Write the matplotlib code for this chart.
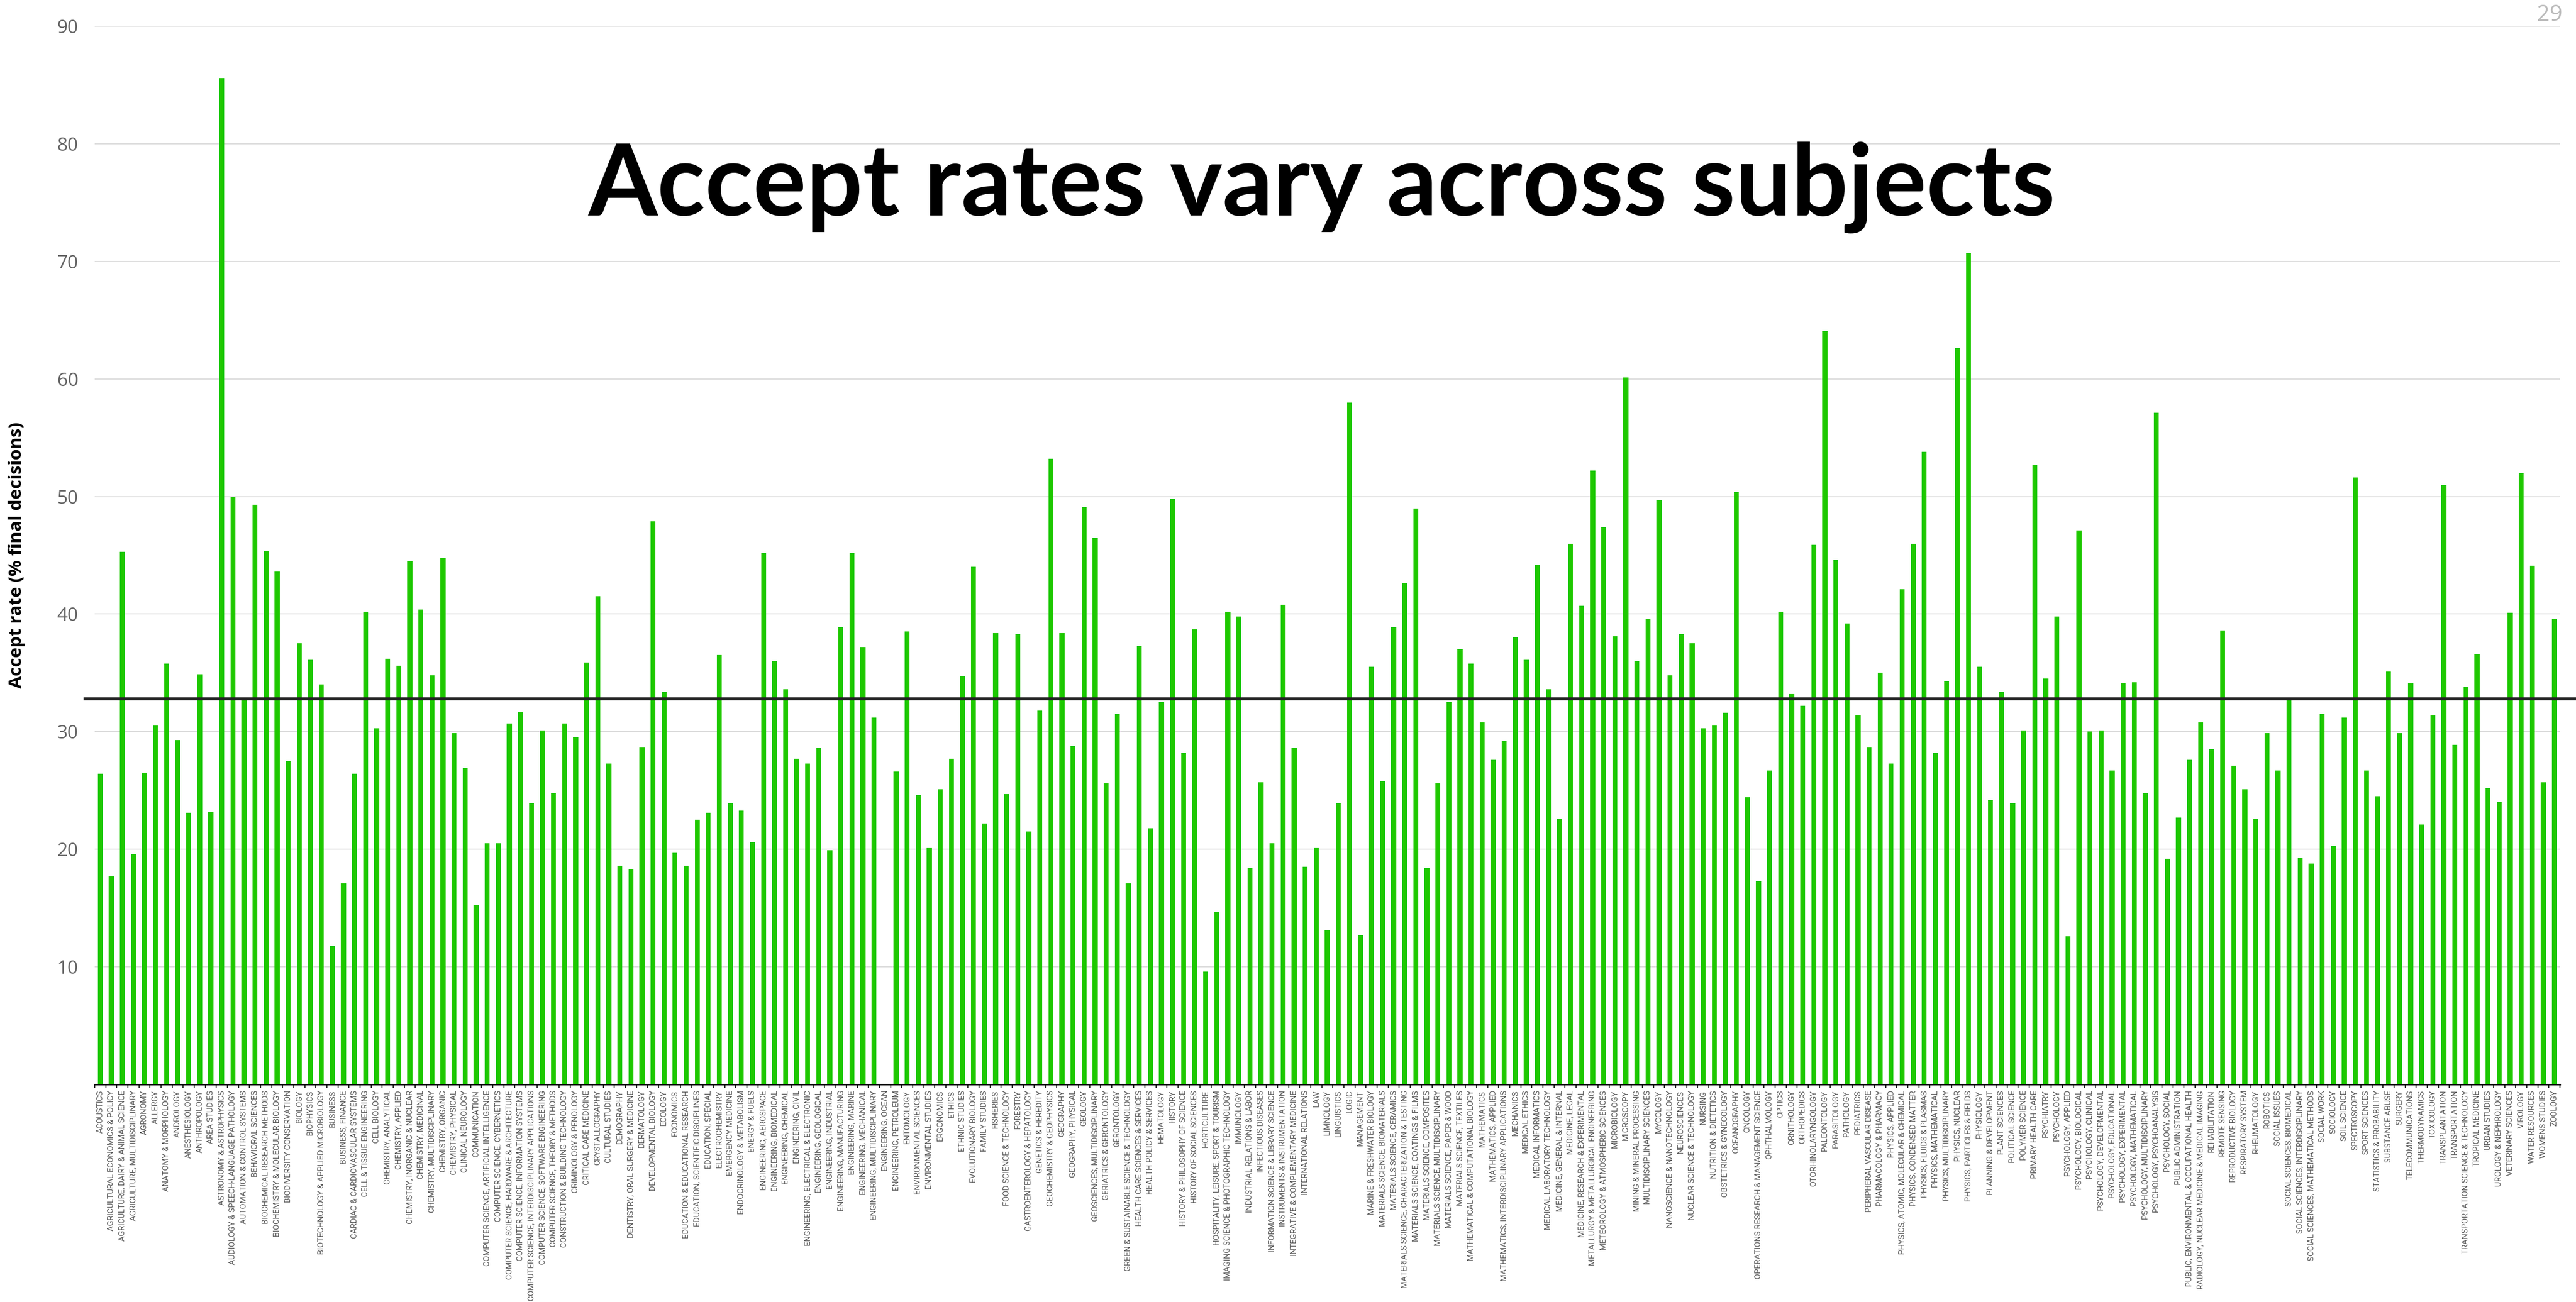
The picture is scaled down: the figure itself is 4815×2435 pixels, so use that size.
import matplotlib
matplotlib.use("Agg")
import matplotlib.pyplot as plt
import numpy as np

subjects = [
    "ACOUSTICS", "AGRICULTURAL ECONOMICS & POLICY", "AGRICULTURE, DAIRY & ANIMAL SCIENCE",
    "AGRICULTURE, MULTIDISCIPLINARY", "AGRONOMY", "ALLERGY", "ANATOMY & MORPHOLOGY", "ANDROLOGY",
    "ANESTHESIOLOGY", "ANTHROPOLOGY", "AREA STUDIES", "ASTRONOMY & ASTROPHYSICS",
    "AUDIOLOGY & SPEECH-LANGUAGE PATHOLOGY", "AUTOMATION & CONTROL SYSTEMS", "BEHAVIORAL SCIENCES",
    "BIOCHEMICAL RESEARCH METHODS", "BIOCHEMISTRY & MOLECULAR BIOLOGY", "BIODIVERSITY CONSERVATION",
    "BIOLOGY", "BIOPHYSICS", "BIOTECHNOLOGY & APPLIED MICROBIOLOGY", "BUSINESS", "BUSINESS, FINANCE",
    "CARDIAC & CARDIOVASCULAR SYSTEMS", "CELL & TISSUE ENGINEERING", "CELL BIOLOGY",
    "CHEMISTRY, ANALYTICAL", "CHEMISTRY, APPLIED", "CHEMISTRY, INORGANIC & NUCLEAR",
    "CHEMISTRY, MEDICINAL", "CHEMISTRY, MULTIDISCIPLINARY", "CHEMISTRY, ORGANIC", "CHEMISTRY, PHYSICAL",
    "CLINICAL NEUROLOGY", "COMMUNICATION", "COMPUTER SCIENCE, ARTIFICIAL INTELLIGENCE",
    "COMPUTER SCIENCE, CYBERNETICS", "COMPUTER SCIENCE, HARDWARE & ARCHITECTURE",
    "COMPUTER SCIENCE, INFORMATION SYSTEMS", "COMPUTER SCIENCE, INTERDISCIPLINARY APPLICATIONS",
    "COMPUTER SCIENCE, SOFTWARE ENGINEERING", "COMPUTER SCIENCE, THEORY & METHODS",
    "CONSTRUCTION & BUILDING TECHNOLOGY", "CRIMINOLOGY & PENOLOGY", "CRITICAL CARE MEDICINE",
    "CRYSTALLOGRAPHY", "CULTURAL STUDIES", "DEMOGRAPHY", "DENTISTRY, ORAL SURGERY & MEDICINE",
    "DERMATOLOGY", "DEVELOPMENTAL BIOLOGY", "ECOLOGY", "ECONOMICS", "EDUCATION & EDUCATIONAL RESEARCH",
    "EDUCATION, SCIENTIFIC DISCIPLINES", "EDUCATION, SPECIAL", "ELECTROCHEMISTRY", "EMERGENCY MEDICINE",
    "ENDOCRINOLOGY & METABOLISM", "ENERGY & FUELS", "ENGINEERING, AEROSPACE", "ENGINEERING, BIOMEDICAL",
    "ENGINEERING, CHEMICAL", "ENGINEERING, CIVIL", "ENGINEERING, ELECTRICAL & ELECTRONIC",
    "ENGINEERING, GEOLOGICAL", "ENGINEERING, INDUSTRIAL", "ENGINEERING, MANUFACTURING",
    "ENGINEERING, MARINE", "ENGINEERING, MECHANICAL", "ENGINEERING, MULTIDISCIPLINARY",
    "ENGINEERING, OCEAN", "ENGINEERING, PETROLEUM", "ENTOMOLOGY", "ENVIRONMENTAL SCIENCES",
    "ENVIRONMENTAL STUDIES", "ERGONOMICS", "ETHICS", "ETHNIC STUDIES", "EVOLUTIONARY BIOLOGY",
    "FAMILY STUDIES", "FISHERIES", "FOOD SCIENCE & TECHNOLOGY", "FORESTRY",
    "GASTROENTEROLOGY & HEPATOLOGY", "GENETICS & HEREDITY", "GEOCHEMISTRY & GEOPHYSICS", "GEOGRAPHY",
    "GEOGRAPHY, PHYSICAL", "GEOLOGY", "GEOSCIENCES, MULTIDISCIPLINARY", "GERIATRICS & GERONTOLOGY",
    "GERONTOLOGY", "GREEN & SUSTAINABLE SCIENCE & TECHNOLOGY", "HEALTH CARE SCIENCES & SERVICES",
    "HEALTH POLICY & SERVICES", "HEMATOLOGY", "HISTORY", "HISTORY & PHILOSOPHY OF SCIENCE",
    "HISTORY OF SOCIAL SCIENCES", "HORTICULTURE", "HOSPITALITY, LEISURE, SPORT & TOURISM",
    "IMAGING SCIENCE & PHOTOGRAPHIC TECHNOLOGY", "IMMUNOLOGY", "INDUSTRIAL RELATIONS & LABOR",
    "INFECTIOUS DISEASES", "INFORMATION SCIENCE & LIBRARY SCIENCE", "INSTRUMENTS & INSTRUMENTATION",
    "INTEGRATIVE & COMPLEMENTARY MEDICINE", "INTERNATIONAL RELATIONS", "LAW", "LIMNOLOGY",
    "LINGUISTICS", "LOGIC", "MANAGEMENT", "MARINE & FRESHWATER BIOLOGY",
    "MATERIALS SCIENCE, BIOMATERIALS", "MATERIALS SCIENCE, CERAMICS",
    "MATERIALS SCIENCE, CHARACTERIZATION & TESTING", "MATERIALS SCIENCE, COATINGS & FILMS",
    "MATERIALS SCIENCE, COMPOSITES", "MATERIALS SCIENCE, MULTIDISCIPLINARY",
    "MATERIALS SCIENCE, PAPER & WOOD", "MATERIALS SCIENCE, TEXTILES",
    "MATHEMATICAL & COMPUTATIONAL BIOLOGY", "MATHEMATICS", "MATHEMATICS, APPLIED",
    "MATHEMATICS, INTERDISCIPLINARY APPLICATIONS", "MECHANICS", "MEDICAL ETHICS",
    "MEDICAL INFORMATICS", "MEDICAL LABORATORY TECHNOLOGY", "MEDICINE, GENERAL & INTERNAL",
    "MEDICINE, LEGAL", "MEDICINE, RESEARCH & EXPERIMENTAL", "METALLURGY & METALLURGICAL ENGINEERING",
    "METEOROLOGY & ATMOSPHERIC SCIENCES", "MICROBIOLOGY", "MICROSCOPY", "MINING & MINERAL PROCESSING",
    "MULTIDISCIPLINARY SCIENCES", "MYCOLOGY", "NANOSCIENCE & NANOTECHNOLOGY", "NEUROSCIENCES",
    "NUCLEAR SCIENCE & TECHNOLOGY", "NURSING", "NUTRITION & DIETETICS", "OBSTETRICS & GYNECOLOGY",
    "OCEANOGRAPHY", "ONCOLOGY", "OPERATIONS RESEARCH & MANAGEMENT SCIENCE", "OPHTHALMOLOGY", "OPTICS",
    "ORNITHOLOGY", "ORTHOPEDICS", "OTORHINOLARYNGOLOGY", "PALEONTOLOGY", "PARASITOLOGY", "PATHOLOGY",
    "PEDIATRICS", "PERIPHERAL VASCULAR DISEASE", "PHARMACOLOGY & PHARMACY", "PHYSICS, APPLIED",
    "PHYSICS, ATOMIC, MOLECULAR & CHEMICAL", "PHYSICS, CONDENSED MATTER", "PHYSICS, FLUIDS & PLASMAS",
    "PHYSICS, MATHEMATICAL", "PHYSICS, MULTIDISCIPLINARY", "PHYSICS, NUCLEAR",
    "PHYSICS, PARTICLES & FIELDS", "PHYSIOLOGY", "PLANNING & DEVELOPMENT", "PLANT SCIENCES",
    "POLITICAL SCIENCE", "POLYMER SCIENCE", "PRIMARY HEALTH CARE", "PSYCHIATRY", "PSYCHOLOGY",
    "PSYCHOLOGY, APPLIED", "PSYCHOLOGY, BIOLOGICAL", "PSYCHOLOGY, CLINICAL",
    "PSYCHOLOGY, DEVELOPMENTAL", "PSYCHOLOGY, EDUCATIONAL", "PSYCHOLOGY, EXPERIMENTAL",
    "PSYCHOLOGY, MATHEMATICAL", "PSYCHOLOGY, MULTIDISCIPLINARY", "PSYCHOLOGY, PSYCHOANALYSIS",
    "PSYCHOLOGY, SOCIAL", "PUBLIC ADMINISTRATION", "PUBLIC, ENVIRONMENTAL & OCCUPATIONAL HEALTH",
    "RADIOLOGY, NUCLEAR MEDICINE & MEDICAL IMAGING", "REHABILITATION", "REMOTE SENSING",
    "REPRODUCTIVE BIOLOGY", "RESPIRATORY SYSTEM", "RHEUMATOLOGY", "ROBOTICS", "SOCIAL ISSUES",
    "SOCIAL SCIENCES, BIOMEDICAL", "SOCIAL SCIENCES, INTERDISCIPLINARY",
    "SOCIAL SCIENCES, MATHEMATICAL METHODS", "SOCIAL WORK", "SOCIOLOGY", "SOIL SCIENCE",
    "SPECTROSCOPY", "SPORT SCIENCES", "STATISTICS & PROBABILITY", "SUBSTANCE ABUSE", "SURGERY",
    "TELECOMMUNICATIONS", "THERMODYNAMICS", "TOXICOLOGY", "TRANSPLANTATION", "TRANSPORTATION",
    "TRANSPORTATION SCIENCE & TECHNOLOGY", "TROPICAL MEDICINE", "URBAN STUDIES",
    "UROLOGY & NEPHROLOGY", "VETERINARY SCIENCES", "VIROLOGY", "WATER RESOURCES", "WOMENS STUDIES",
    "ZOOLOGY",
]

# accept rate, % of final decisions
accept_rate = [
    26.4, 17.7, 45.3, 19.6, 26.5, 30.5, 35.8, 29.3, 23.1, 34.9,
    23.2, 85.6, 50.0, 32.8, 49.3, 45.4, 43.6, 27.5, 37.5, 36.1,
    34.0, 11.8, 17.1, 26.4, 40.2, 30.3, 36.2, 35.6, 44.5, 40.4,
    34.8, 44.8, 29.9, 26.9, 15.3, 20.5, 20.5, 30.7, 31.7, 23.9,
    30.1, 24.8, 30.7, 29.5, 35.9, 41.5, 27.3, 18.6, 18.3, 28.7,
    47.9, 33.4, 19.7, 18.6, 22.5, 23.1, 36.5, 23.9, 23.3, 20.6,
    45.2, 36.0, 33.6, 27.7, 27.3, 28.6, 19.9, 38.9, 45.2, 37.2,
    31.2, 0.0, 26.6, 38.5, 24.6, 20.1, 25.1, 27.7, 34.7, 44.0,
    22.2, 38.4, 24.7, 38.3, 21.5, 31.8, 53.2, 38.4, 28.8, 49.1,
    46.5, 25.6, 31.5, 17.1, 37.3, 21.8, 32.5, 49.8, 28.2, 38.7,
    9.6, 14.7, 40.2, 39.8, 18.4, 25.7, 20.5, 40.8, 28.6, 18.5,
    20.1, 13.1, 23.9, 58.0, 12.7, 35.5, 25.8, 38.9, 42.6, 49.0,
    18.4, 25.6, 32.5, 37.0, 35.8, 30.8, 27.6, 29.2, 38.0, 36.1,
    44.2, 33.6, 22.6, 46.0, 40.7, 52.2, 47.4, 38.1, 60.1, 36.0,
    39.6, 49.7, 34.8, 38.3, 37.5, 30.3, 30.5, 31.6, 50.4, 24.4,
    17.3, 26.7, 40.2, 33.2, 32.2, 45.9, 64.1, 44.6, 39.2, 31.4,
    28.7, 35.0, 27.3, 42.1, 46.0, 53.8, 28.2, 34.3, 62.6, 70.7,
    35.5, 24.2, 33.4, 23.9, 30.1, 52.7, 34.5, 39.8, 12.6, 47.1,
    30.0, 30.1, 26.7, 34.1, 34.2, 24.8, 57.1, 19.2, 22.7, 27.6,
    30.8, 28.5, 38.6, 27.1, 25.1, 22.6, 29.9, 26.7, 32.9, 19.3,
    18.8, 31.5, 20.3, 31.2, 51.6, 26.7, 24.5, 35.1, 29.9, 34.1,
    22.1, 31.4, 51.0, 28.9, 33.8, 36.6, 25.2, 24.0, 40.1, 52.0,
    44.1, 25.7, 39.6,
]

overall_rate = 32.8
title = "Accept rates vary across subjects"
ylabel = "Accept rate (% final decisions)"
page_number = "29"

W, H = 4815, 2435
fig = plt.figure(figsize=(W / 100, H / 100), dpi=100)
ax = fig.add_axes([177 / W, 1 - 2028 / H, 4608 / W, (2028 - 49) / H])

x = np.arange(len(subjects))
ax.bar(x, accept_rate, width=0.45, color="#1ec800", zorder=3)

ax.set_xlim(-0.5, len(subjects) - 0.5)
ax.set_ylim(0, 90)
ax.set_yticks(np.arange(10, 91, 10))
ax.yaxis.grid(True, color="#dddddd", linewidth=1.5, zorder=0)
ax.tick_params(axis="y", length=0, pad=22, labelsize=25, labelcolor="#666666")
for lab in ax.get_yticklabels():
    lab.set_family("Open Sans")

ax.set_xticks(x)
ax.set_xticklabels(subjects, rotation=90, fontsize=10.8, color="#555555", family="Roboto")
ax.set_xticks(np.arange(-0.5, len(subjects), 1), minor=True)
ax.tick_params(axis="x", which="major", length=0, pad=8)
ax.tick_params(axis="x", which="minor", length=5, width=1.5, color="#333333")

for side in ["left", "right", "top"]:
    ax.spines[side].set_visible(False)
ax.spines["bottom"].set_linewidth(2)

ax.axhline(overall_rate, xmin=-0.004, xmax=1.01, color="#222222", linewidth=4,
           zorder=4, clip_on=False)

ax.set_ylabel(ylabel, fontsize=24, fontweight="bold", family="Open Sans", labelpad=42)

fig.text(2470 / W, 1 - 350 / H, title, fontsize=134, fontweight="bold", family="Lato",
         ha="center", va="center", color="black")
fig.text(4790 / W, 1 - 28 / H, page_number, fontsize=30, color="#bbbbbb", family="Open Sans",
         ha="right", va="center")

fig.savefig("out.png", dpi=100)
